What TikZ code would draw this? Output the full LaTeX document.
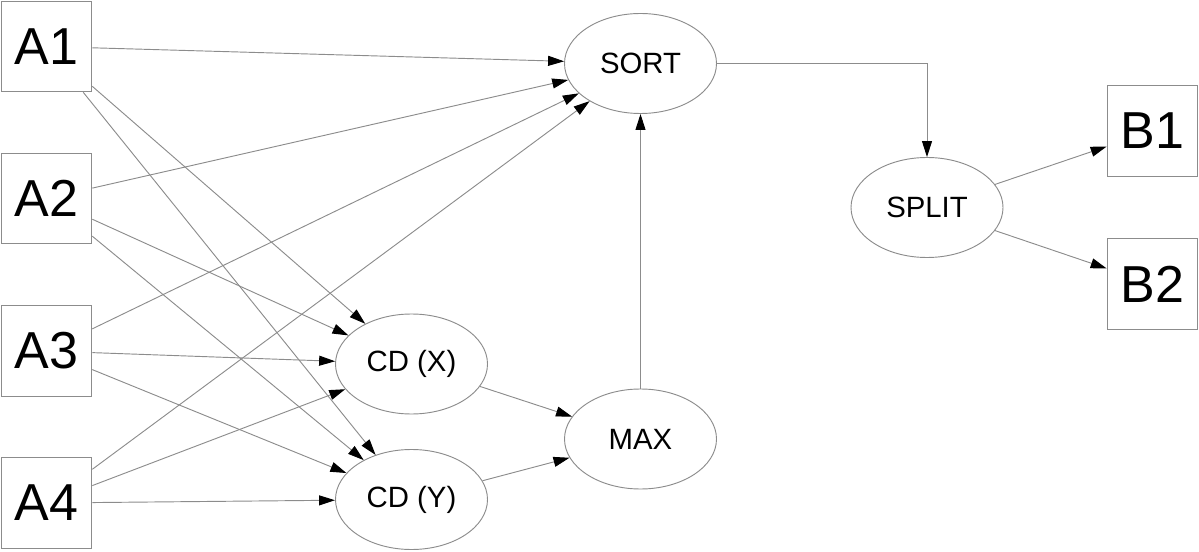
\documentclass[tikz,border=0pt]{standalone}
\usepackage{fontspec}
\setmainfont{Liberation Sans}
\usetikzlibrary{arrows.meta,shapes,positioning}
\tikzstyle{block} = [rectangle, draw=black!45, line width=0.7pt, minimum width=68pt, minimum height=68pt, inner sep=0pt, font=\fontsize{39}{39}\selectfont]
\tikzstyle{oper}  = [ellipse, draw=black!45, line width=0.7pt, minimum width=114pt, minimum height=75pt, inner sep=0pt, font=\fontsize{22}{22}\selectfont]
\tikzstyle{arrow} = [draw=black!45, line width=0.7pt, -{Triangle[length=12pt,width=7.5pt,color=black]}]

\begin{document}
\begin{tikzpicture}[x=0.75pt, y=-0.75pt]
		\useasboundingbox (0,0) rectangle (1199,552);

		% inputs
		\node[block] (a1) at (46.5,46.5) {A1};
		\node[block] (a2) at (46.5,198.5) {A2};
		\node[block] (a3) at (46.5,351) {A3};
		\node[block] (a4) at (46.5,503) {A4};

		% operations
		\node[oper] (sort)  at (640.5,63.5) {SORT};
		\node[oper] (split) at (927,207.5) {SPLIT};
		\node[oper] (cdx)   at (411.5,364) {CD (X)};
		\node[oper] (cdy)   at (411.5,499.5) {CD (Y)};
		\node[oper] (max)   at (640.5,439) {MAX};

		% outputs
		\node[block] (b1) at (1152.5,131) {B1};
		\node[block] (b2) at (1152.5,284) {B2};

		\foreach \a in {1,...,4}
			\foreach \t in {sort,cdx,cdy}
				\draw[arrow] (a\a) -- (\t);

		\draw[arrow] (cdx) -- (max);
		\draw[arrow] (cdy) -- (max);
		\draw[arrow] (max) -- (sort);
		\draw[arrow] (sort.east) -| (split.north);
		\draw[arrow] (split) -- (b1);
		\draw[arrow] (split) -- (b2);
	\end{tikzpicture}
\end{document}
